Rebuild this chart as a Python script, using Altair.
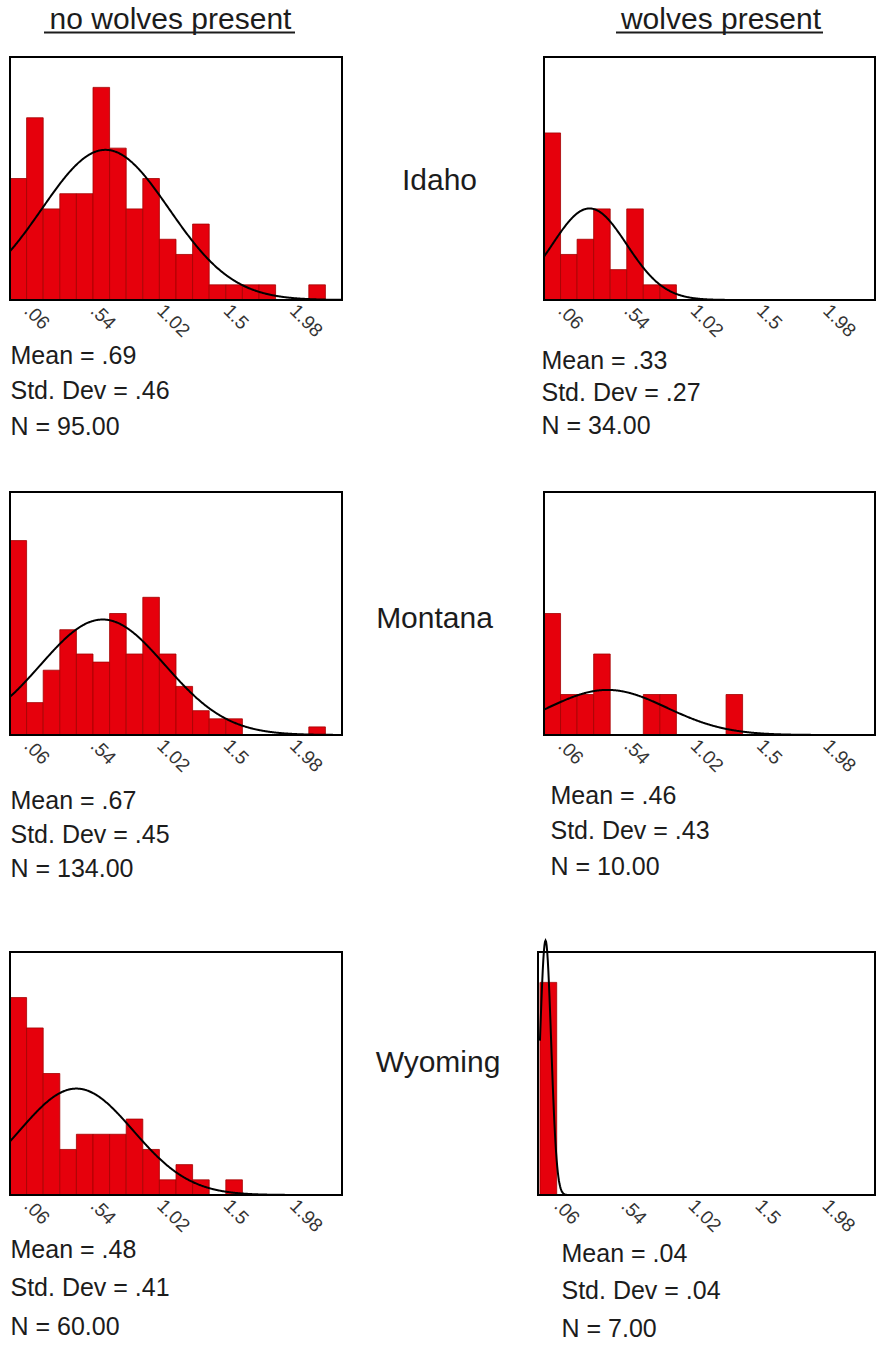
import altair as alt
import pandas as pd

# ---------------- data ----------------
BIN_MID = [0.06, 0.18, 0.30, 0.42, 0.54, 0.66, 0.78, 0.90, 1.02, 1.14,
           1.26, 1.38, 1.50, 1.62, 1.74, 1.86, 1.98, 2.10, 2.22, 2.34]
BIN_WIDTH = 0.12
TICKS = [0.06, 0.54, 1.02, 1.50, 1.98]

GROUPS = ["no wolves present", "wolves present"]
STATES = ["Idaho", "Montana", "Wyoming"]

COUNTS_IDAHO_NO = [8, 12, 6, 7, 7, 14, 10, 6, 8, 4, 3, 5, 1, 1, 1, 1, 0, 0, 1, 0]
COUNTS_IDAHO_WOLF = [11, 3, 4, 6, 2, 6, 1, 1, 0, 0, 0, 0, 0, 0, 0, 0, 0, 0, 0, 0]
COUNTS_MONTANA_NO = [24, 4, 8, 13, 10, 9, 15, 10, 17, 10, 6, 3, 2, 2, 0, 0, 0, 0, 1, 0]
COUNTS_MONTANA_WOLF = [3, 1, 1, 2, 0, 0, 1, 1, 0, 0, 0, 1, 0, 0, 0, 0, 0, 0, 0, 0]
COUNTS_WYOMING_NO = [13, 11, 8, 3, 4, 4, 4, 5, 3, 1, 2, 1, 0, 1, 0, 0, 0, 0, 0, 0]
COUNTS_WYOMING_WOLF = [7, 0, 0, 0, 0, 0, 0, 0, 0, 0, 0, 0, 0, 0, 0, 0, 0, 0, 0, 0]

MEANS = [0.69, 0.33, 0.67, 0.46, 0.48, 0.04]
SDS = [0.46, 0.27, 0.45, 0.43, 0.41, 0.04]
NS = [95, 34, 134, 10, 60, 7]
Y_MAX = [16, 16, 30, 6, 16, 8]

# ---------------- styling ----------------
FONT = "Liberation Sans"
RED = "#e6000c"
RED_EDGE = "#a30000"
TXT = "#1c1c1c"
PANEL_H = 243
W_LEFT, W_MID, W_RIGHT = 332, 196, 337


def stat_lines(m, s, n):
    fm = f"{m:.2f}".lstrip("0")
    fs = f"{s:.2f}".lstrip("0")
    return [f"Mean = {fm}", f"Std. Dev = {fs}", f"N = {n:.2f}"]


def panel(counts, mean, sd, n, ymax, width, x0, xdom, tx, ty, lh):
    df = pd.DataFrame({"mid": BIN_MID, "count": counts})
    xs = alt.Scale(domain=xdom, range=[x0, width], nice=False, zero=False)
    ys = alt.Scale(domain=[0, ymax], nice=False)
    axis = alt.Axis(
        values=TICKS,
        labelExpr="replace(format(datum.value, '~f'), /^0\\./, '.')",
        labelAngle=45, labelAlign="left", labelBaseline="top",
        labelFontSize=19, labelPadding=1, labelOffset=15,
        labelColor="#333333", labelFont=FONT,
        labelFlush=False, labelOverlap=False,
        ticks=False, domain=False, grid=False,
        title=stat_lines(mean, sd, n),
        titleFont=FONT, titleFontSize=25, titleFontWeight="normal", titleColor=TXT,
        titleAlign="left", titleAnchor="start", titleBaseline="alphabetic",
        titleX=tx, titleY=ty, titleLineHeight=lh,
    )
    bars = alt.Chart(df).transform_filter("datum.count > 0").transform_calculate(
        lo=f"datum.mid - {BIN_WIDTH / 2}", hi=f"datum.mid + {BIN_WIDTH / 2}"
    ).mark_bar(color=RED, stroke=RED_EDGE, strokeWidth=0.8).encode(
        x=alt.X("lo:Q", scale=xs, axis=axis),
        x2="hi:Q",
        y=alt.Y("count:Q", scale=ys, axis=None),
        y2=alt.datum(0),
    )
    curve = alt.Chart(alt.sequence(0, 2.4001, 0.004, as_="x")).transform_calculate(
        d=f"{n} * {BIN_WIDTH} * exp(-0.5 * pow((datum.x - {mean}) / {sd}, 2)) / ({sd} * sqrt(2 * PI))"
    ).mark_line(color="black", strokeWidth=2).encode(
        x=alt.X("x:Q", scale=xs, axis=axis),
        y=alt.Y("d:Q", scale=ys, axis=None),
    )
    frame = alt.Chart(pd.DataFrame({"k": [0]})).mark_rect(
        fill="transparent", stroke="black", strokeWidth=2
    ).encode(
        x=alt.value(x0), x2=alt.value(width), y=alt.value(0), y2=alt.value(PANEL_H)
    )
    return alt.layer(bars, curve, frame).properties(width=width, height=PANEL_H)


def label_chart(text, width, height, x, y, size=30):
    return alt.Chart(pd.DataFrame({"t": [text]})).mark_text(
        font=FONT, fontSize=size, color=TXT, align="center", baseline="alphabetic"
    ).encode(text="t:N", x=alt.value(x), y=alt.value(y)).properties(width=width, height=height)


def spacer(width, height):
    return alt.Chart(pd.DataFrame({"k": [0]})).mark_point(
        opacity=0, size=1, strokeWidth=0
    ).encode(
        x=alt.value(width / 2), y=alt.value(height / 2)
    ).properties(width=width, height=height)


def header(text, width, cx, x1, x2):
    t = alt.Chart(pd.DataFrame({"t": [text]})).mark_text(
        font=FONT, fontSize=30, color=TXT, align="center", baseline="alphabetic"
    ).encode(text="t:N", x=alt.value(cx), y=alt.value(29))
    rule = alt.Chart(pd.DataFrame({"k": [0]})).mark_rule(color=TXT, strokeWidth=2).encode(
        x=alt.value(x1), x2=alt.value(x2), y=alt.value(32.5)
    )
    return alt.layer(t, rule).properties(width=width, height=57)


DOM = [0, 2.4]
cells = [
    header(GROUPS[0], W_LEFT, 160.5, 34, 285),
    spacer(W_MID, 57),
    header(GROUPS[1], W_RIGHT, 183, 78, 285),

    panel(COUNTS_IDAHO_NO, MEANS[0], SDS[0], NS[0], Y_MAX[0], W_LEFT, 0, DOM, 0, 63, 35.5),
    label_chart(STATES[0], W_MID, PANEL_H, 97.5, 133),
    panel(COUNTS_IDAHO_WOLF, MEANS[1], SDS[1], NS[1], Y_MAX[1], W_RIGHT, 6, DOM, 3, 68, 32.7),

    spacer(W_LEFT, 192), spacer(W_MID, 192), spacer(W_RIGHT, 192),

    panel(COUNTS_MONTANA_NO, MEANS[2], SDS[2], NS[2], Y_MAX[2], W_LEFT, 0, DOM, 0, 73, 34),
    label_chart(STATES[1], W_MID, PANEL_H, 92.5, 136),
    panel(COUNTS_MONTANA_WOLF, MEANS[3], SDS[3], NS[3], Y_MAX[3], W_RIGHT, 6, DOM, 12, 68, 35.5),

    spacer(W_LEFT, 217), spacer(W_MID, 217), spacer(W_RIGHT, 217),

    panel(COUNTS_WYOMING_NO, MEANS[4], SDS[4], NS[4], Y_MAX[4], W_LEFT, 0, DOM, 0, 62, 38.5),
    label_chart(STATES[2], W_MID, PANEL_H, 96, 120),
    panel(COUNTS_WYOMING_WOLF, MEANS[5], SDS[5], NS[5], Y_MAX[5], W_RIGHT, 0, [-0.014, 2.4], 23, 66, 37.5),

    spacer(W_LEFT, 150), spacer(W_MID, 150), spacer(W_RIGHT, 150),
]

chart = alt.concat(
    *cells, columns=3, spacing=0, bounds="flush",
).properties(
    padding={"left": 6, "top": 0, "right": 0, "bottom": 0},
    background="white",
).configure_view(strokeWidth=0)

chart.save("out.html", embed_options={"renderer": "svg", "actions": False})
